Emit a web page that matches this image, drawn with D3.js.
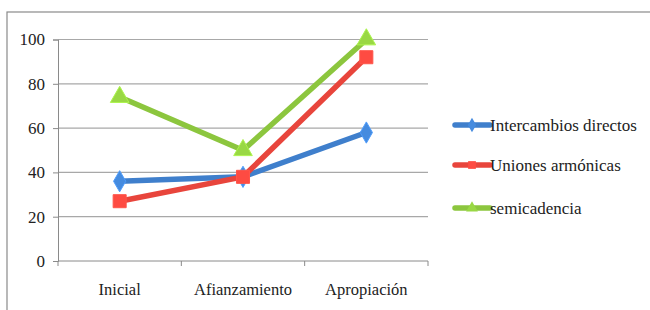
<!DOCTYPE html>
<html>
<head>
<meta charset="utf-8">
<script src="https://cdn.jsdelivr.net/npm/d3@7"></script>
<style>
  body { margin: 0; background: #fff; }
</style>
</head>
<body>
<svg id="chart" width="650" height="310"></svg>
<script>
const categories = ['Inicial', 'Afianzamiento', 'Apropiación'];
const intercambios = [36, 38, 58];
const uniones = [27, 38, 92];
const semicadencia = [74, 50, 100];
const yTicks = [0, 20, 40, 60, 80, 100];

const FONT = 'Liberation Serif';

const series = [
  { name: 'Intercambios directos', values: intercambios, color: '#3f7fcc', shape: d3.symbolDiamond, size: 130 },
  { name: 'Uniones armónicas', values: uniones, color: '#e8453c', shape: d3.symbolSquare, size: 170 },
  { name: 'semicadencia', values: semicadencia, color: '#8cc63e', shape: d3.symbolTriangle, size: 150 }
];

const svg = d3.select('#chart')
  .attr('font-family', FONT);

// outer frame
svg.append('rect')
  .attr('x', 7).attr('y', 12)
  .attr('width', 660).attr('height', 320)
  .attr('fill', 'none').attr('stroke', '#8a8a8a').attr('stroke-width', 1.2);

const m = { left: 58, right: 428, top: 39.5, bottom: 261 };

const x = d3.scaleBand().domain(categories).range([m.left, m.right]);
const y = d3.scaleLinear().domain([0, 100]).range([m.bottom, m.top]);

// gridlines
svg.append('g')
  .selectAll('line')
  .data(yTicks.filter(d => d > 0))
  .enter()
  .append('line')
  .attr('x1', m.left).attr('x2', m.right)
  .attr('y1', d => y(d)).attr('y2', d => y(d))
  .attr('stroke', '#a8a8a8').attr('stroke-width', 1.2);

// y axis
const yAxis = svg.append('g')
  .attr('transform', `translate(${m.left},0)`)
  .call(d3.axisLeft(y).tickValues(yTicks).tickSize(5).tickPadding(8))
  .attr('font-family', FONT).attr('font-size', 17);
yAxis.select('.domain').attr('stroke', '#8a8a8a');
yAxis.selectAll('.tick line').attr('stroke', '#8a8a8a');
yAxis.selectAll('text').attr('fill', '#222');

// x axis
const xAxis = svg.append('g')
  .attr('transform', `translate(0,${m.bottom})`)
  .call(d3.axisBottom(x).tickSize(0).tickPadding(22))
  .attr('font-family', FONT).attr('font-size', 16.5);
xAxis.select('.domain').attr('stroke', '#8a8a8a').attr('d', `M${m.left},0H${m.right}`);
xAxis.selectAll('text').attr('fill', '#222');
xAxis.selectAll('.sep')
  .data(d3.range(categories.length + 1))
  .enter()
  .append('line')
  .attr('class', 'sep')
  .attr('x1', i => m.left + i * x.step()).attr('x2', i => m.left + i * x.step())
  .attr('y1', 0).attr('y2', 5)
  .attr('stroke', '#8a8a8a');

const cx = c => x(c) + x.bandwidth() / 2;

const line = d3.line()
  .x((d, i) => cx(categories[i]))
  .y(d => y(d));

series.forEach(s => {
  svg.append('path')
    .datum(s.values)
    .attr('d', line)
    .attr('fill', 'none')
    .attr('stroke', s.color)
    .attr('stroke-width', 5.5)
    .attr('stroke-linejoin', 'round');
});

series.forEach(s => {
  svg.append('g')
    .selectAll('path')
    .data(s.values)
    .enter()
    .append('path')
    .attr('d', d3.symbol().type(s.shape).size(s.size))
    .attr('transform', (d, i) => `translate(${cx(categories[i])},${y(d)})`)
    .attr('fill', d3.color(s.color).brighter(0.25))
    .attr('stroke', d3.color(s.color).brighter(0.6))
    .attr('stroke-width', 1);
});

// legend
const legend = svg.append('g').attr('font-family', FONT).attr('font-size', 17);
const legY = [125, 165, 208];
series.forEach((s, i) => {
  const g = legend.append('g').attr('transform', `translate(455,${legY[i]})`);
  g.append('line')
    .attr('x1', 0).attr('x2', 35)
    .attr('stroke', s.color).attr('stroke-width', 5.5)
    .attr('stroke-linecap', 'round');
  g.append('path')
    .attr('d', d3.symbol().type(s.shape).size(60))
    .attr('transform', 'translate(17,0)')
    .attr('fill', d3.color(s.color).brighter(0.25));
  g.append('text')
    .attr('x', 35).attr('y', 5.5)
    .attr('fill', '#222')
    .text(s.name);
});
</script>
</body>
</html>
